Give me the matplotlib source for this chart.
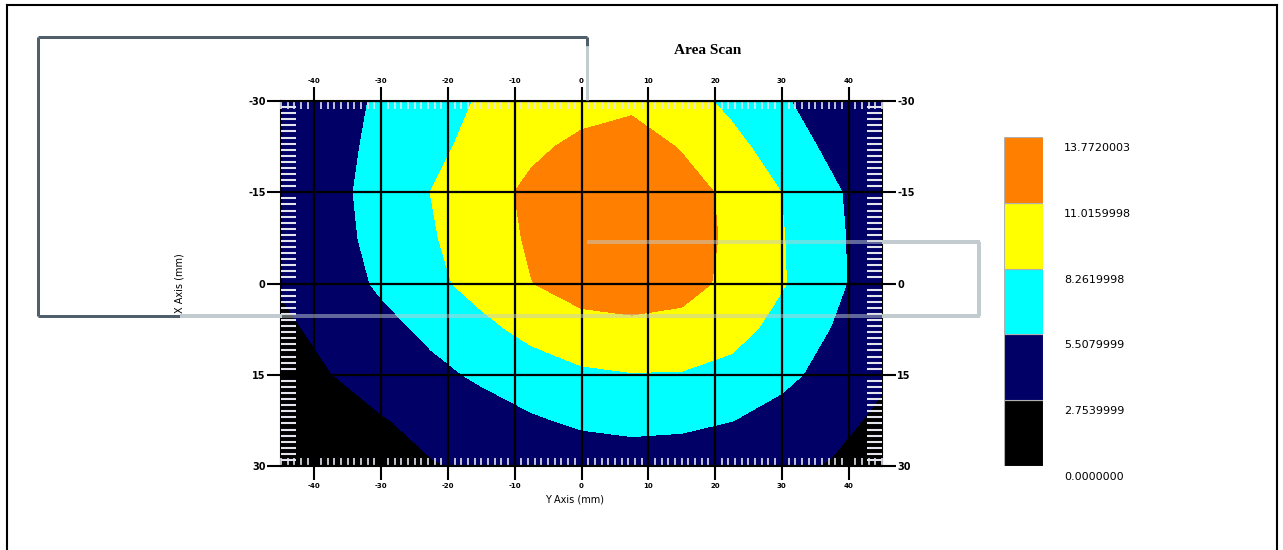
import numpy as np
import matplotlib
matplotlib.use("Agg")
import matplotlib.pyplot as plt
from matplotlib.lines import Line2D
from matplotlib.ticker import MultipleLocator
from matplotlib.transforms import ScaledTranslation

# grid positions of the scan (mm)
y_axis_mm = [-45, -37.5, -30, -22.5, -15, -7.5, 0, 7.5, 15, 22.5, 30, 37.5, 45]
x_axis_mm = [-30, -22.5, -15, -7.5, 0, 7.5, 15, 22.5, 30]

row_m30 = [3.4, 4.54, 5.86, 7.18, 8.5, 9.6, 10.0, 10.4, 9.3, 7.64, 5.84, 4.05, 3.0]
row_m22 = [3.2, 4.65, 6.15, 7.64, 9.06, 10.5, 11.6, 12.3, 10.82, 9.01, 7.01, 4.88, 3.2]
row_m15 = [3.4, 4.72, 6.51, 8.30, 9.89, 11.6, 12.8, 13.2, 12.2, 10.36, 8.23, 5.94, 3.8]
row_m7 = [3.3, 4.59, 6.31, 8.03, 9.69, 11.35, 12.6, 13.0, 12.3, 10.53, 8.40, 6.12, 3.9]
row_0 = [3.0, 4.21, 5.89, 7.57, 9.26, 10.97, 12.0, 12.4, 11.9, 10.42, 8.47, 6.21, 3.8]
row_7 = [2.2, 3.50, 4.73, 6.06, 7.55, 9.04, 10.2, 10.4, 10.2, 9.26, 7.34, 5.41, 3.6]
row_15 = [1.63, 2.71, 3.79, 4.87, 5.9, 6.9, 7.8, 8.15, 8.1, 7.4, 6.1, 4.69, 3.1]
row_22 = [1.0, 1.71, 2.59, 3.47, 4.35, 5.22, 5.9, 6.2, 6.1, 5.55, 4.65, 3.47, 2.28]
row_30 = [0.3, 1.2, 2.0, 2.6, 3.2, 3.8, 4.05, 4.25, 4.0, 3.5, 3.3, 2.58, 1.6]

levels = [0.0, 2.7539999, 5.5079999, 8.2619998, 11.0159998, 13.7720003]
level_labels = ["0.0000000", "2.7539999", "5.5079999", "8.2619998", "11.0159998", "13.7720003"]
colors = ["#000000", "#000066", "#00FFFF", "#FFFF00", "#FF8000"]

x_ticks = [-40, -30, -20, -10, 0, 10, 20, 30, 40]
y_ticks = [-30, -15, 0, 15, 30]

W, H = 1283, 550
fig = plt.figure(figsize=(W / 100, H / 100), dpi=100)


def fx(px):
    return px / W


def fy(py):
    return 1 - py / H


Z = np.array([row_m30, row_m22, row_m15, row_m7, row_0, row_7, row_15, row_22, row_30])

ax = fig.add_axes([fx(281), fy(466), fx(882) - fx(281), fy(101) - fy(466)])
ax.contourf(y_axis_mm, x_axis_mm, Z, levels=levels, colors=colors)
ax.set_xlim(-45, 45)
ax.set_ylim(30, -30)
ax.set_axisbelow(False)

ax.set_xticks(x_ticks)
ax.set_xticklabels([str(t) for t in x_ticks])
ax.set_yticks(y_ticks)
ax.set_yticklabels([str(t) for t in y_ticks])
ax.xaxis.set_minor_locator(MultipleLocator(1))
ax.yaxis.set_minor_locator(MultipleLocator(1))
ax.grid(which="major", color="black", lw=1.6)

ax.tick_params(which="major", direction="out", length=10, width=1.5, color="black",
               top=True, bottom=True, left=True, right=True,
               labeltop=True, labelright=True)
ax.tick_params(axis="x", which="major", labelsize=5, pad=2)
ax.tick_params(axis="y", which="major", labelsize=7, pad=1)
ax.tick_params(axis="y", which="minor", direction="in", length=11, width=1.5,
               color="#e4e4ee", left=True, right=True)
ax.tick_params(axis="x", which="minor", direction="in", length=6, width=1.2,
               color="#e4e4ee", top=True, bottom=True)
for lab in ax.get_xticklabels() + ax.get_yticklabels():
    lab.set_fontweight("bold")
for sp in ax.spines.values():
    sp.set_linewidth(1.5)

fig.text(fx(708), fy(50), "Area Scan", ha="center", va="center",
         family="Liberation Serif", fontsize=11, fontweight="bold")
fig.text(fx(180), fy(283), "X Axis (mm)", ha="center", va="center", rotation=90, fontsize=7)
fig.text(fx(575), fy(500), "Y Axis (mm)", ha="center", va="center", fontsize=7)

# colour key
cax = fig.add_axes([fx(1004), fy(466), fx(1043) - fx(1004), fy(137) - fy(466)])
cax.bar(0, np.diff(levels), bottom=levels[:-1], width=1, color=colors,
        edgecolor="#b0b0b0", lw=0.8)
cax.set_xlim(-0.5, 0.5)
cax.set_ylim(levels[0], levels[-1])
cax.set_xticks([])
cax.set_yticks(levels)
cax.set_yticklabels(level_labels)
cax.yaxis.tick_right()
cax.tick_params(axis="y", length=0, pad=15, labelsize=8)
shift = ScaledTranslation(0, -0.10, fig.dpi_scale_trans)
for lab in cax.get_yticklabels():
    lab.set_transform(lab.get_transform() + shift)
for sp in cax.spines.values():
    sp.set_visible(False)

# window outlines overlaid on the screenshot
dark = "#4f5f6b"
light = "#c2ccd0"
for xs, ys, c, lw, a in [
    ([38, 587], [37, 37], dark, 3, 1),
    ([38, 38], [37, 316], dark, 3, 1),
    ([38, 180], [316, 316], dark, 3, 1),
    ([587, 587], [37, 46], dark, 3, 1),
    ([587, 587], [46, 100], light, 3, 1),
    ([180, 282], [316, 316], light, 4, 1),
    ([282, 882], [316, 316], light, 4, 0.5),
    ([587, 882], [242, 242], light, 4, 0.5),
    ([882, 980], [242, 242], light, 4, 1),
    ([882, 980], [316, 316], light, 4, 1),
    ([979, 979], [242, 316], light, 4, 1),
]:
    fig.add_artist(Line2D([fx(v) for v in xs], [fy(v) for v in ys], color=c, lw=lw * 0.72,
                          alpha=a, transform=fig.transFigure, solid_capstyle="butt"))

# screenshot frame
for xs, ys in [([7, 1277], [5, 5]), ([7, 7], [5, 550]), ([1277, 1277], [5, 550])]:
    fig.add_artist(Line2D([fx(v) for v in xs], [fy(v) for v in ys], color="black", lw=1.5,
                          transform=fig.transFigure))

fig.savefig("out.png", dpi=100)
